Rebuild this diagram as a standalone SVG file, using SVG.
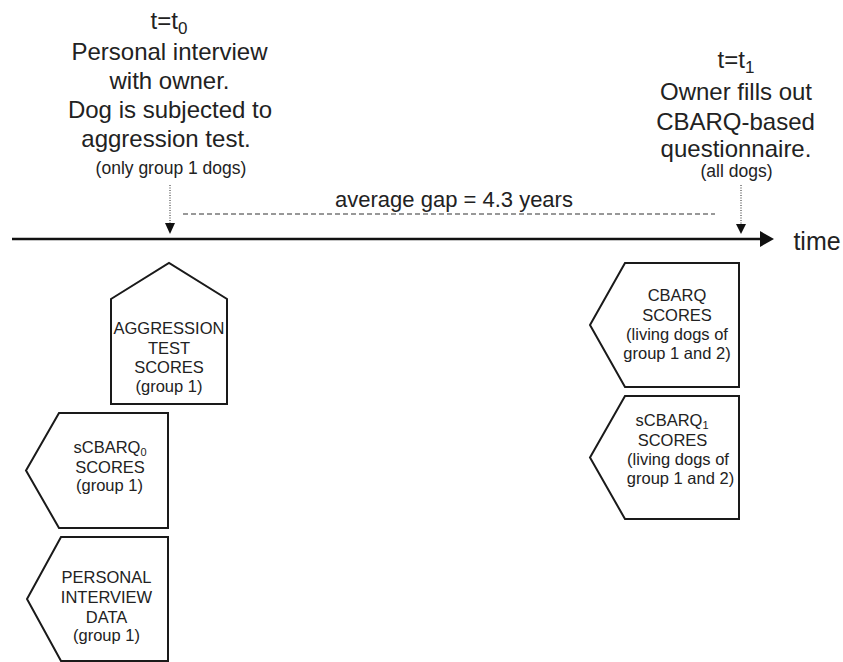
<svg xmlns="http://www.w3.org/2000/svg" width="843" height="662" viewBox="0 0 843 662">
<defs>
<style>
text{font-family:"Liberation Sans",Arial,Helvetica,sans-serif;fill:#222;text-anchor:middle}
.big{font-size:24px}
.small{font-size:17.5px}
.box{font-size:16.5px}
.shape{fill:#fff;stroke:#1a1a1a;stroke-width:2;stroke-linejoin:miter}
.dot{stroke:#222;stroke-width:1;stroke-dasharray:1,1.5;fill:none}
.gap{stroke:#777;stroke-width:1.3;stroke-dasharray:5,3;fill:none}
</style>
</defs>
<rect width="843" height="662" fill="#fff"/>

<g id="connectors">
<line x1="12" y1="239" x2="761" y2="239" stroke="#111" stroke-width="2.6"/>
<polygon points="760,231 774,239 760,247" fill="#111"/>
<line class="dot" x1="170" y1="185" x2="170" y2="224"/>
<polygon points="165,223 175,223 170,234" fill="#111"/>
<line class="dot" x1="741" y1="185" x2="741" y2="225"/>
<polygon points="736,224 746,224 741,234" fill="#111"/>
<line class="gap" x1="183" y1="214" x2="715" y2="214"/>
</g>

<g id="label-t0">
<text class="big" x="169" y="29">t=t<tspan font-size="17px" dy="5">0</tspan></text>
<text class="big" x="169.5" y="60">Personal interview</text>
<text class="big" x="169.5" y="89">with owner.</text>
<text class="big" x="170" y="118">Dog is subjected to</text>
<text class="big" x="166" y="147">aggression test.</text>
<text class="small" x="171" y="174">(only group 1 dogs)</text>
</g>

<g id="label-t1">
<text class="big" x="736" y="68">t=t<tspan font-size="17px" dy="5">1</tspan></text>
<text class="big" x="736" y="100">Owner fills out</text>
<text class="big" x="735.5" y="130">CBARQ-based</text>
<text class="big" x="736" y="157">questionnaire.</text>
<text class="small" x="736.5" y="177">(all dogs)</text>
</g>

<g id="label-gap">
<text style="font-size:22px" x="454" y="207">average gap = 4.3 years</text>
</g>

<g id="label-time">
<text style="font-size:25px" x="817" y="250">time</text>
</g>

<g id="node-aggression">
<polygon class="shape" points="111,299 169,263 227,299 227,404 111,404"/>
<text class="box" x="169" y="334">AGGRESSION</text>
<text class="box" x="169" y="354">TEST</text>
<text class="box" x="169" y="373">SCORES</text>
<text class="box" x="169" y="392">(group 1)</text>
</g>

<g id="node-scbarq0">
<polygon class="shape" points="59,413 168,413 168,528 59,528 26,470.5"/>
<text class="box" x="110" y="453">sCBARQ<tspan font-size="11px" dy="3">0</tspan></text>
<text class="box" x="110" y="473">SCORES</text>
<text class="box" x="109.5" y="491">(group 1)</text>
</g>

<g id="node-personal">
<polygon class="shape" points="61,537 168,537 168,661 61,661 27,599"/>
<text class="box" x="106.5" y="583">PERSONAL</text>
<text class="box" x="106.5" y="603">INTERVIEW</text>
<text class="box" x="106.5" y="623">DATA</text>
<text class="box" x="106.5" y="641">(group 1)</text>
</g>

<g id="node-cbarq">
<polygon class="shape" points="625,263 739,263 739,387 625,387 590,325"/>
<text class="box" x="677" y="301">CBARQ</text>
<text class="box" x="677" y="321">SCORES</text>
<text class="box" x="677" y="340">(living dogs of</text>
<text class="box" x="677" y="359">group 1 and 2)</text>
</g>

<g id="node-scbarq1">
<polygon class="shape" points="625,396 739,396 739,519 625,519 590,457.5"/>
<text class="box" x="672" y="426">sCBARQ<tspan font-size="11px" dy="3">1</tspan></text>
<text class="box" x="672.5" y="446">SCORES</text>
<text class="box" x="678" y="465">(living dogs of</text>
<text class="box" x="680.5" y="484">group 1 and 2)</text>
</g>
</svg>
